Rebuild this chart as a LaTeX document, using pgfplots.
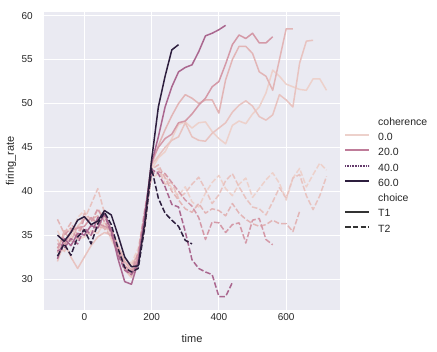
\documentclass[border=0pt]{standalone}
\usepackage{pgfplots}
\pgfplotsset{compat=1.18}
\usepackage{fontspec}
\setmainfont{Liberation Sans}
\definecolor{bgc}{HTML}{EAEAF2}
\definecolor{tc}{HTML}{262626}
\definecolor{cA}{HTML}{EDD1CB}
\definecolor{cB}{HTML}{E8C3C0}
\definecolor{cC}{HTML}{E2B5B6}
\definecolor{cD}{HTML}{D499A7}
\definecolor{cE}{HTML}{AA678F}
\definecolor{cF}{HTML}{2D1E3E}
\definecolor{lB}{HTML}{BF7C99}
\definecolor{lC}{HTML}{653B6C}
\definecolor{cg}{HTML}{333333}
\tikzset{
  sT1/.style={line width=1.5pt, line join=round},
  sT2/.style={line width=1.5pt, line join=round, dash pattern=on 5.5pt off 2.2pt},
}
\begin{document}
\begin{tikzpicture}[x=1pt,y=1pt]
\useasboundingbox (-44,-42) rectangle (393,310);
\begin{axis}[
  at={(0,0)}, anchor=south west,
  scale only axis, width=296pt, height=298pt,
  xmin=-120, xmax=760, ymin=26.47, ymax=60.42,
  axis background/.style={fill=bgc},
  axis line style={draw=none},
  tick style={draw=none},
  grid=major, major grid style={white, line width=1pt},
  xtick={0,200,400,600}, ytick={30,35,40,45,50,55,60},
  /pgf/number format/assume math mode=true,
  xticklabel style={font=\fontsize{10}{12}\selectfont, text=tc, anchor=base, inner sep=0pt, yshift=-10.7pt},
  yticklabel style={font=\fontsize{10}{12}\selectfont, text=tc, anchor=east, inner sep=0pt, xshift=-11pt},
  xlabel={time}, ylabel={firing\_rate},
  every axis x label/.style={at={(axis description cs:0.5,0)}, anchor=base, inner sep=0pt, yshift=-33pt, font=\fontsize{11}{13}\selectfont, text=tc},
  every axis y label/.style={at={(axis description cs:0,0.5)}, rotate=90, anchor=center, inner sep=0pt, yshift=33pt, font=\fontsize{11}{13}\selectfont, text=tc},
  legend image code/.code={\draw[#1] (0pt,3pt) -- (24pt,3pt);},
  legend cell align=left,
  legend style={draw=none, fill=none, inner sep=0pt, row sep=4.7pt,
    at={(axis description cs:1.01351,0.6463)}, anchor=north west,
    font=\fontsize{10.5}{12}\selectfont, text=tc,
    nodes={inner sep=0pt, text height=7.6pt, text depth=3pt},
    /tikz/every odd column/.append style={column sep=8pt}},
]
% ---------- coherence 0 ----------
\addplot[cA, sT1, forget plot] coordinates {(-80,33.5)(-60,35.0)(-40,35.8)(-20,34.5)(0,34.8)(20,35.5)(40,35.2)(60,36.5)(80,34.5)(100,33.0)(120,32.0)(140,31.5)(160,33.0)(180,36.0)(200,42.5)(220,43.8)(240,44.5)(260,46.0)(280,47.6)(300,47.9)(320,47.2)(340,47.8)(360,47.9)(380,46.8)(400,46.0)(420,45.4)(440,47.5)(460,48.0)(480,47.7)(500,48.8)(520,49.6)(540,51.2)(560,53.8)(580,53.1)(600,52.2)(620,51.9)(640,51.6)(660,51.5)(680,52.8)(700,52.8)(720,51.5)};
\addplot[cA, sT2, forget plot] coordinates {(-80,35.5)(-60,34.0)(-40,34.8)(-20,37.0)(0,37.8)(20,36.0)(40,38.0)(60,37.0)(80,35.8)(100,33.8)(120,32.3)(140,31.8)(160,33.5)(180,37.5)(200,41.5)(220,42.0)(240,41.8)(260,40.3)(280,39.5)(300,40.5)(320,38.8)(340,38.2)(360,39.8)(380,41.0)(400,41.8)(420,40.3)(440,39.5)(460,40.8)(480,41.5)(500,39.3)(520,40.3)(540,41.3)(560,42.1)(580,40.9)(600,39.0)(620,41.5)(640,42.6)(660,40.5)(680,41.9)(700,43.2)(720,42.4)};
% ---------- coherence 3.2 ----------
\addplot[cB, sT1, forget plot] coordinates {(-80,32.0)(-60,34.2)(-40,32.5)(-20,31.2)(0,32.5)(20,33.8)(40,34.8)(60,35.3)(80,35.0)(100,33.2)(120,31.0)(140,30.2)(160,32.0)(180,36.0)(200,43.0)(220,44.0)(240,45.0)(260,45.8)(280,46.2)(300,47.8)(320,46.2)(340,45.8)(360,45.7)(380,46.6)(400,47.2)(420,47.8)(440,49.0)(460,49.8)(480,50.3)(500,49.7)(520,48.5)(540,48.1)(560,48.7)(580,51.0)(600,50.4)(620,49.6)(640,54.6)(660,57.1)(680,57.2)};
\addplot[cB, sT2, forget plot] coordinates {(-80,34.5)(-60,33.0)(-40,35.5)(-20,36.0)(0,36.8)(20,38.5)(40,40.3)(60,37.5)(80,35.0)(100,33.0)(120,31.5)(140,31.0)(160,32.5)(180,37.0)(200,42.0)(220,42.6)(240,40.8)(260,41.0)(280,39.2)(300,39.8)(320,40.8)(340,41.6)(360,40.2)(380,38.6)(400,39.6)(420,41.2)(440,42.0)(460,40.5)(480,39.2)(500,38.2)(520,38.0)(540,37.3)(560,38.8)(580,40.4)(600,39.2)(620,41.5)(640,41.9)(660,39.5)(680,37.9)(700,39.5)(720,41.7)};
% ---------- coherence 6.4 ----------
\addplot[cC, sT1, forget plot] coordinates {(-80,33.0)(-60,35.5)(-40,34.3)(-20,36.0)(0,35.5)(20,35.0)(40,36.0)(60,35.8)(80,35.6)(100,33.8)(120,32.0)(140,31.0)(160,32.3)(180,36.5)(200,43.0)(220,45.2)(240,47.0)(260,48.6)(280,50.0)(300,51.0)(320,50.6)(340,50.0)(360,50.4)(380,50.4)(400,48.9)(420,52.7)(440,55.0)(460,56.5)(480,56.5)(500,55.7)(520,53.6)(540,53.1)(560,51.5)(580,55.0)(600,58.5)(620,58.5)};
\addplot[cC, sT2, forget plot] coordinates {(-80,36.8)(-60,35.2)(-40,36.4)(-20,35.0)(0,37.5)(20,36.8)(40,37.2)(60,35.7)(80,34.8)(100,33.5)(120,31.8)(140,31.5)(160,32.8)(180,37.5)(200,42.5)(220,43.0)(240,41.5)(260,40.0)(280,39.0)(300,38.0)(320,37.6)(340,38.6)(360,37.5)(380,38.0)(400,37.8)(420,37.2)(440,38.6)(460,37.5)(480,36.8)(500,36.3)(520,36.0)(540,36.2)(560,36.7)(580,36.3)(600,36.3)(620,35.4)(640,37.7)};
% ---------- coherence 12.8 ----------
\addplot[cD, sT1, forget plot] coordinates {(-80,34.0)(-60,33.8)(-40,35.5)(-20,35.8)(0,36.0)(20,37.0)(40,36.3)(60,36.0)(80,35.7)(100,33.0)(120,31.2)(140,30.5)(160,32.5)(180,37.0)(200,43.5)(220,45.0)(240,46.0)(260,46.5)(280,47.8)(300,48.0)(320,48.8)(340,49.8)(360,50.6)(380,51.9)(400,52.5)(420,54.5)(440,56.7)(460,57.8)(480,57.4)(500,58.0)(520,56.9)(540,56.9)(560,57.6)};
\addplot[cD, sT2, forget plot] coordinates {(-80,33.5)(-60,35.0)(-40,35.8)(-20,34.5)(0,37.0)(20,36.5)(40,38.0)(60,36.5)(80,35.5)(100,33.5)(120,31.5)(140,30.8)(160,33.0)(180,38.0)(200,42.0)(220,42.2)(240,42.0)(260,41.0)(280,40.0)(300,39.0)(320,38.3)(340,37.0)(360,34.5)(380,36.5)(400,36.4)(420,35.3)(440,36.2)(460,36.4)(480,34.1)(500,36.7)(520,36.9)(540,34.5)(560,33.9)};
% ---------- coherence 25.6 ----------
\addplot[cE, sT1, forget plot] coordinates {(-80,32.3)(-60,34.6)(-40,33.8)(-20,35.2)(0,35.0)(20,36.1)(40,35.8)(60,37.5)(80,35.5)(100,32.3)(120,29.7)(140,29.4)(160,32.0)(180,37.5)(200,43.2)(220,46.2)(240,49.6)(260,51.9)(280,53.6)(300,54.1)(320,54.4)(340,55.9)(360,57.7)(380,58.0)(400,58.4)(420,58.9)};
\addplot[cE, sT2, forget plot] coordinates {(-80,33.2)(-60,33.5)(-40,34.6)(-20,34.0)(0,35.8)(20,35.0)(40,37.0)(60,37.3)(80,35.2)(100,32.8)(120,31.0)(140,30.5)(160,31.8)(180,37.0)(200,42.5)(220,42.0)(240,40.5)(260,38.5)(280,38.2)(300,35.4)(320,32.2)(340,31.2)(360,30.8)(380,30.5)(400,28.0)(420,28.0)(440,29.6)};
% ---------- coherence 51.2 ----------
\addplot[cF, sT1, forget plot] coordinates {(-80,35.0)(-60,34.3)(-40,35.3)(-20,36.7)(0,37.1)(20,36.2)(40,36.6)(60,37.8)(80,37.3)(100,35.0)(120,32.5)(140,31.4)(160,31.5)(180,36.5)(200,43.6)(220,49.6)(240,53.1)(260,56.1)(280,56.7)};
\addplot[cF, sT2, forget plot] coordinates {(-80,32.6)(-60,34.0)(-40,32.7)(-20,34.8)(0,35.6)(20,34.0)(40,36.3)(60,37.6)(80,36.2)(100,33.5)(120,31.3)(140,30.8)(160,31.2)(180,36.0)(200,42.6)(220,39.2)(240,37.5)(260,36.7)(280,36.0)(300,34.4)(320,34.0)};
% ---------- legend ----------
\addlegendimage{empty legend}\addlegendentry{coherence}
\addlegendimage{cA, line width=2pt}\addlegendentry{0.0}
\addlegendimage{lB, line width=2pt}\addlegendentry{20.0}
\addlegendimage{lC, line width=2pt, dash pattern=on 1pt off 0.6pt}\addlegendentry{40.0}
\addlegendimage{cF, line width=2pt}\addlegendentry{60.0}
\addlegendimage{empty legend}\addlegendentry{choice}
\addlegendimage{cg, line width=2pt}\addlegendentry{T1}
\addlegendimage{cg, line width=2pt, dash pattern=on 5.5pt off 2.2pt}\addlegendentry{T2}
\end{axis}
\end{tikzpicture}
\end{document}
